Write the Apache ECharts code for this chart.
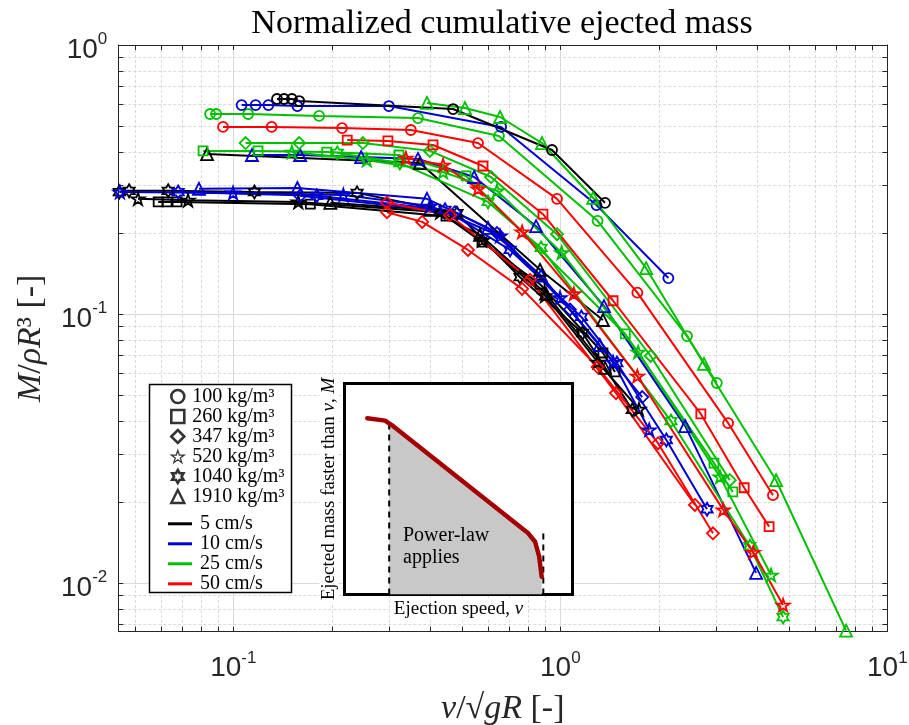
<!DOCTYPE html>
<html><head><meta charset="utf-8">
<script src="https://cdn.jsdelivr.net/npm/echarts@6/dist/echarts.min.js"></script>
<style>html,body{margin:0;padding:0;background:#fff}#c{width:909px;height:725px}</style>
</head><body><div id="c"></div>
<script>
// ---------- categories / tick labels ----------
const speeds = ['5 cm/s', '10 cm/s', '25 cm/s', '50 cm/s'];
const densities = ['100 kg/m³', '260 kg/m³', '347 kg/m³', '520 kg/m³', '1040 kg/m³', '1910 kg/m³'];
const xGridTicks = [0.05,0.06,0.07,0.08,0.09,0.1,0.2,0.3,0.4,0.5,0.6,0.7,0.8,0.9,1,2,3,4,5,6,7,8,9,10];
const yGridTicks = [0.007,0.008,0.009,0.01,0.02,0.03,0.04,0.05,0.06,0.07,0.08,0.09,0.1,0.2,0.3,0.4,0.5,0.6,0.7,0.8,0.9,1];
const xRange = [0.04448, 10];
const yRange = [0.00659, 1];

// ---------- data: v/sqrt(gR) and M/(rho R^3) ----------
// 5 cm/s
const v_5_100 = [0.136, 0.143, 0.151, 0.159, 0.470, 0.943, 1.37];
const m_5_100 = [0.630, 0.630, 0.630, 0.619, 0.578, 0.407, 0.259];
const v_5_260 = [0.0589, 0.0627, 0.0673, 0.172, 0.447, 0.576, 0.867, 1.35, 1.47];
const m_5_260 = [0.261, 0.261, 0.261, 0.256, 0.231, 0.185, 0.129, 0.0716, 0.0609];
const v_5_520 = [0.0511, 0.0727, 0.158, 0.429, 0.576, 0.898, 1.30, 1.74];
const m_5_520 = [0.268, 0.265, 0.261, 0.239, 0.188, 0.117, 0.0663, 0.0443];
const v_5_1040 = [0.0448, 0.0480, 0.0632, 0.116, 0.239, 0.483, 0.753, 1.17, 1.66];
const m_5_1040 = [0.284, 0.287, 0.287, 0.284, 0.282, 0.237, 0.137, 0.0850, 0.0440];
const v_5_1910 = [0.0831, 0.372, 0.867, 1.35];
const m_5_1910 = [0.393, 0.364, 0.146, 0.0950];
const v_5_1910b = [0.198, 0.399, 0.568, 0.904, 1.37];
const m_5_1910b = [0.259, 0.244, 0.197, 0.119, 0.0630];
// 10 cm/s
const v_10_100 = [0.106, 0.117, 0.128, 0.157, 0.299, 0.659, 1.29, 2.14];
const m_10_100 = [0.598, 0.598, 0.598, 0.593, 0.593, 0.496, 0.254, 0.136];
const v_10_347 = [0.160, 0.476, 0.640, 1.07, 1.78];
const m_10_347 = [0.275, 0.239, 0.200, 0.104, 0.0491];
const v_10_520 = [0.0450, 0.0998, 0.217, 0.399, 0.654, 0.998, 1.45, 1.87];
const m_10_520 = [0.284, 0.282, 0.277, 0.252, 0.195, 0.115, 0.0663, 0.0371];
const v_10_1040 = [0.0678, 0.180, 0.444, 0.702, 1.16, 1.49, 2.11, 2.81];
const m_10_1040 = [0.284, 0.275, 0.244, 0.173, 0.0975, 0.0657, 0.0340, 0.0188];
const v_10_1910 = [0.114, 0.160, 0.246, 0.367, 0.545, 0.843, 1.36, 2.41, 3.97];
const m_10_1910 = [0.390, 0.390, 0.383, 0.377, 0.323, 0.212, 0.107, 0.0383, 0.0109];
const v_10_1910b = [0.0785, 0.157, 0.391, 0.601, 0.873, 1.32];
const m_10_1910b = [0.292, 0.294, 0.268, 0.209, 0.139, 0.0767];
// 25 cm/s
const v_25_100 = [0.0849, 0.0886, 0.111, 0.183, 0.367, 0.649, 1.30, 2.44, 3.01];
const m_25_100 = [0.554, 0.554, 0.554, 0.545, 0.535, 0.459, 0.222, 0.0828, 0.0554];
const v_25_260 = [0.0808, 0.119, 0.193, 0.321, 0.515, 1.58, 2.95, 3.37];
const m_25_260 = [0.404, 0.404, 0.400, 0.390, 0.326, 0.0843, 0.0279, 0.0218];
const v_25_347 = [0.109, 0.159, 0.249, 0.399, 0.614, 0.977, 1.89, 3.30];
const m_25_347 = [0.432, 0.432, 0.432, 0.404, 0.323, 0.198, 0.0698, 0.0241];
const v_25_520 = [0.151, 0.256, 0.438, 0.640, 1.01, 1.73, 3.08, 4.41];
const m_25_520 = [0.400, 0.374, 0.337, 0.287, 0.169, 0.0722, 0.0248, 0.0107];
const v_25_1040 = [0.208, 0.323, 0.601, 0.873, 2.18, 3.80, 4.80];
const m_25_1040 = [0.397, 0.364, 0.261, 0.176, 0.0400, 0.0137, 0.00747];
const v_25_1910 = [0.391, 0.511, 0.654, 0.879, 1.26, 1.83, 2.75, 4.57, 7.48];
const m_25_1910 = [0.609, 0.583, 0.540, 0.432, 0.270, 0.148, 0.0652, 0.0241, 0.00665];
// 50 cm/s
const v_50_100 = [0.0930, 0.131, 0.215, 0.349, 0.560, 0.977, 1.72, 3.26, 4.47];
const m_50_100 = [0.496, 0.496, 0.491, 0.483, 0.432, 0.268, 0.120, 0.0393, 0.0212];
const v_50_260 = [0.223, 0.297, 0.408, 0.580, 0.885, 1.45, 2.69, 3.65, 4.35];
const m_50_260 = [0.443, 0.440, 0.425, 0.355, 0.235, 0.112, 0.0425, 0.0226, 0.0162];
const v_50_347 = [0.295, 0.378, 0.522, 0.764, 1.30, 1.99, 2.93];
const m_50_347 = [0.239, 0.220, 0.173, 0.124, 0.0635, 0.0331, 0.0153];
const v_50_347b = [0.295, 0.460, 0.808, 1.48, 2.58];
const m_50_347b = [0.259, 0.233, 0.134, 0.0508, 0.0195];
const v_50_520 = [0.337, 0.438, 0.560, 0.764, 1.10, 1.72, 3.15, 3.89, 4.80];
const m_50_520 = [0.380, 0.358, 0.292, 0.202, 0.119, 0.0588, 0.0187, 0.0130, 0.00828];

// ---------- inset schematic (arbitrary units 0..100) ----------
const insetSpeed = [10.0, 17.8, 20.7, 80.6, 83.6, 85.4, 86.5];
const insetMass  = [83.5, 82.4, 80.3, 29.0, 25.0, 17.9, 8.4];
const powerSpeed = [19.6, 20.7, 80.6, 83.6, 85.4, 86.5];
const powerMass  = [80.8, 80.3, 29.0, 25.0, 17.9, 8.4];
const cutLowSpeed = [19.6, 19.6];
const cutLowMass  = [0, 80.8];
const cutHighSpeed = [87.2, 87.2];
const cutHighMass  = [0, 29.8];

// runs: [speed index, density index, v, M]
const runs = [
  [0, 1, v_5_260, m_5_260], [0, 3, v_5_520, m_5_520], [0, 4, v_5_1040, m_5_1040], [0, 5, v_5_1910b, m_5_1910b],
  [1, 2, v_10_347, m_10_347], [1, 3, v_10_520, m_10_520], [1, 4, v_10_1040, m_10_1040], [1, 5, v_10_1910b, m_10_1910b],
  [3, 2, v_50_347, m_50_347], [3, 2, v_50_347b, m_50_347b],
  [0, 5, v_5_1910, m_5_1910], [1, 5, v_10_1910, m_10_1910],
  [2, 1, v_25_260, m_25_260], [2, 2, v_25_347, m_25_347], [2, 3, v_25_520, m_25_520], [2, 4, v_25_1040, m_25_1040],
  [3, 3, v_50_520, m_50_520], [3, 1, v_50_260, m_50_260], [3, 0, v_50_100, m_50_100],
  [2, 0, v_25_100, m_25_100], [1, 0, v_10_100, m_10_100], [2, 5, v_25_1910, m_25_1910], [0, 0, v_5_100, m_5_100]
];

// ---------- styles ----------
const speedColors = ['#000000', '#0000d2', '#00c000', '#ff0000'];
const STAR5 = 'path://M50,0L61.2,34.55L97.55,34.55L68.2,55.9L79.4,90.45L50,69.1L20.6,90.45L31.8,55.9L2.45,34.55L38.8,34.55Z';
const STAR6 = 'path://M50,0L64.43,25L93.3,25L78.87,50L93.3,75L64.43,75L50,100L35.57,75L6.7,75L21.13,50L6.7,25L35.57,25Z';
const densSymbols = ['circle', 'rect', 'diamond', STAR5, STAR6, 'triangle'];
const densSizes = [10, 9, 12, 13, 13, 12];
const legendSizes = [11, 10, 12, 10, 13, 12];
const legendStroke = [2.6, 2.6, 2.6, 1.2, 2.6, 2.4];
const AX = '#262626';
const SANS = 'Liberation Sans';
const SERIF = 'Liberation Serif';

const series = [];
runs.forEach(([s, d, v, m], k) => {
  series.push({
    type: 'line', name: speeds[s] + ', ' + densities[d] + ' #' + k,
    xAxisIndex: 0, yAxisIndex: 0,
    data: v.map((x, i) => [x, m[i]]),
    symbol: densSymbols[d], symbolSize: densSizes[d], symbolKeepAspect: true,
    showSymbol: true, silent: true, z: 2,
    lineStyle: { color: speedColors[s], width: 2 },
    itemStyle: { color: 'rgba(255,255,255,0)', borderColor: speedColors[s], borderWidth: 1.8 },
    emphasis: { disabled: true }
  });
});
// legend-only series
densities.forEach((name, d) => series.push({
  type: 'scatter', name, data: [], symbol: densSymbols[d], symbolSize: legendSizes[d], symbolKeepAspect: true,
  itemStyle: { color: 'rgba(255,255,255,0)', borderColor: '#000', borderWidth: legendStroke[d] }
}));
speeds.forEach((name, s) => series.push({
  type: 'line', name, data: [], symbol: 'none',
  itemStyle: { color: speedColors[s] }, lineStyle: { color: speedColors[s], width: 3 }
}));
// inset series
const pairs = (a, b) => a.map((x, i) => [x, b[i]]);
series.push({ type: 'line', xAxisIndex: 3, yAxisIndex: 3, data: pairs(powerSpeed, powerMass), symbol: 'none', silent: true, z: 7,
  lineStyle: { width: 0 }, areaStyle: { color: '#c8c8c8', opacity: 1 } });
series.push({ type: 'line', xAxisIndex: 3, yAxisIndex: 3, data: pairs(cutLowSpeed, cutLowMass), symbol: 'none', silent: true, z: 8,
  lineStyle: { color: '#000', width: 2, type: [6, 5] } });
series.push({ type: 'line', xAxisIndex: 3, yAxisIndex: 3, data: pairs(cutHighSpeed, cutHighMass), symbol: 'none', silent: true, z: 8,
  lineStyle: { color: '#000', width: 2, type: [6, 5] } });
series.push({ type: 'line', xAxisIndex: 3, yAxisIndex: 3, data: pairs(insetSpeed, insetMass), symbol: 'none', silent: true, z: 9,
  lineStyle: { color: '#a50000', width: 4.5, cap: 'round', join: 'round' } });

const supRich = {
  b: { fontFamily: SANS, fontSize: 28, color: AX, padding: [10, 0, 0, 0], verticalAlign: 'middle' },
  s: { fontFamily: SANS, fontSize: 17, color: AX, padding: [0, 0, 11, 0], verticalAlign: 'middle' }
};
const powLabel = v => '{b|10}{s|' + Math.round(Math.log10(v)) + '}';
const hidden = { axisLine: { show: false }, axisTick: { show: false }, axisLabel: { show: false }, splitLine: { show: false } };
const lg = a => a.map(v => Math.log10(v));

const option = {
  animation: false,
  title: { text: 'Normalized cumulative ejected mass', left: 497, top: 2, textAlign: 'center',
    textStyle: { fontFamily: SERIF, fontWeight: 'normal', fontSize: 34, color: '#000' } },
  grid: [
    { left: 118.3, top: 45, width: 769, height: 586.7, containLabel: false, outerBoundsMode: 'none' },
    { left: 344.5, top: 383.5, width: 228, height: 211, show: true, backgroundColor: '#fff',
      borderColor: '#000', borderWidth: 3, z: 5, containLabel: false, outerBoundsMode: 'none' }
  ],
  xAxis: [
    { type: 'log', gridIndex: 0, position: 'bottom', min: xRange[0], max: xRange[1], logBase: 10,
      axisLine: { show: true, onZero: false, lineStyle: { color: AX, width: 1 } },
      axisTick: { show: false },
      axisLabel: { formatter: powLabel, rich: supRich, margin: 13, showMinLabel: false, fontSize: 28, fontFamily: SANS, color: AX },
      splitLine: { show: true, showMinLine: false, showMaxLine: false, lineStyle: { color: '#d9d9d9', width: 1 } },
      name: '{i|v}/√{i|gR} [-]', nameLocation: 'middle', nameGap: 60,
      nameTextStyle: { fontFamily: SERIF, fontSize: 34, color: AX,
        rich: { i: { fontFamily: SERIF, fontSize: 34, fontStyle: 'italic', color: AX } } } },
    { type: 'value', gridIndex: 0, position: 'top', min: Math.log10(xRange[0]), max: Math.log10(xRange[1]),
      axisLine: { show: true, onZero: false, lineStyle: { color: AX, width: 1 } },
      axisTick: { show: true, inside: true, length: 5, customValues: lg(xGridTicks), lineStyle: { color: AX } },
      axisLabel: { show: false },
      splitLine: { show: true, lineStyle: { color: '#dadada', width: 1, type: [3, 2] } } },
    { type: 'value', gridIndex: 0, position: 'bottom', min: Math.log10(xRange[0]), max: Math.log10(xRange[1]),
      axisLine: { show: false, onZero: false },
      axisTick: { show: true, inside: true, length: 5, customValues: lg(xGridTicks), lineStyle: { color: AX } },
      axisLabel: { show: false }, splitLine: { show: false } },
    Object.assign({ type: 'value', gridIndex: 1, min: 0, max: 100, z: 6,
      name: 'Ejection speed, {i|v}', nameLocation: 'middle', nameGap: 5,
      nameTextStyle: { fontFamily: SERIF, fontSize: 19, color: '#000', backgroundColor: '#fff', padding: [0, 4, 0, 4],
        rich: { i: { fontFamily: SERIF, fontSize: 19, fontStyle: 'italic', color: '#000' } } } }, hidden)
  ],
  yAxis: [
    { type: 'log', gridIndex: 0, position: 'left', min: yRange[0], max: yRange[1], logBase: 10,
      axisLine: { show: true, onZero: false, lineStyle: { color: AX, width: 1 } },
      axisTick: { show: false },
      axisLabel: { formatter: powLabel, rich: supRich, margin: 11, showMinLabel: false, fontSize: 28, fontFamily: SANS, color: AX },
      splitLine: { show: true, showMinLine: false, showMaxLine: false, lineStyle: { color: '#d9d9d9', width: 1 } },
      name: '{i|M}/{i|ρR}³ [-]', nameLocation: 'middle', nameRotate: 90, nameGap: 70,
      nameTextStyle: { fontFamily: SERIF, fontSize: 34, color: AX,
        rich: { i: { fontFamily: SERIF, fontSize: 34, fontStyle: 'italic', color: AX } } } },
    { type: 'value', gridIndex: 0, position: 'right', min: Math.log10(yRange[0]), max: Math.log10(yRange[1]),
      axisLine: { show: true, onZero: false, lineStyle: { color: AX, width: 1 } },
      axisTick: { show: true, inside: true, length: 5, customValues: lg(yGridTicks), lineStyle: { color: AX } },
      axisLabel: { show: false },
      splitLine: { show: true, lineStyle: { color: '#dadada', width: 1, type: [3, 2] } } },
    { type: 'value', gridIndex: 0, position: 'left', min: Math.log10(yRange[0]), max: Math.log10(yRange[1]),
      axisLine: { show: false, onZero: false },
      axisTick: { show: true, inside: true, length: 5, customValues: lg(yGridTicks), lineStyle: { color: AX } },
      axisLabel: { show: false }, splitLine: { show: false } },
    Object.assign({ type: 'value', gridIndex: 1, min: 0, max: 100, z: 6,
      name: 'Ejected mass faster than {i|v}, {i|M}', nameLocation: 'middle', nameRotate: 90, nameGap: 6,
      nameTextStyle: { fontFamily: SERIF, fontSize: 19, color: '#000', backgroundColor: '#fff', padding: [0, 2, 0, 2],
        rich: { i: { fontFamily: SERIF, fontSize: 19, fontStyle: 'italic', color: '#000' } } } }, hidden)
  ],
  legend: [
    { orient: 'vertical', left: 170, top: 386.5, itemWidth: 13, itemHeight: 13, itemGap: 0, padding: 0,
      selectedMode: false, z: 4,
      data: densities.map((n, d) => ({ name: n, itemStyle: { borderWidth: legendStroke[d], borderColor: '#000' } })),
      textStyle: { fontFamily: SERIF, fontSize: 20, lineHeight: 19, color: '#000', padding: [0, 0, 0, 3] } },
    { orient: 'vertical', left: 168, top: 513.8, itemWidth: 24, itemHeight: 3, itemGap: 0, padding: 0,
      selectedMode: false, data: speeds.map(n => ({ name: n, icon: 'rect' })), z: 4,
      textStyle: { fontFamily: SERIF, fontSize: 20, lineHeight: 19, color: '#000', padding: [0, 0, 0, 3] } }
  ],
  graphic: [
    { type: 'rect', z: 3, silent: true, shape: { x: 149.5, y: 384.5, width: 142, height: 208 },
      style: { fill: '#fff', stroke: '#000', lineWidth: 1.5 } },
    { type: 'text', z: 20, silent: true, left: 403, top: 524.5,
      style: { text: 'Power-law\napplies', font: '20px "Liberation Serif"', fill: '#000', lineHeight: 22 } }
  ],
  series
};
const chart = echarts.init(document.getElementById('c'), null, { renderer: 'canvas' });
chart.setOption(option);
</script></body></html>
